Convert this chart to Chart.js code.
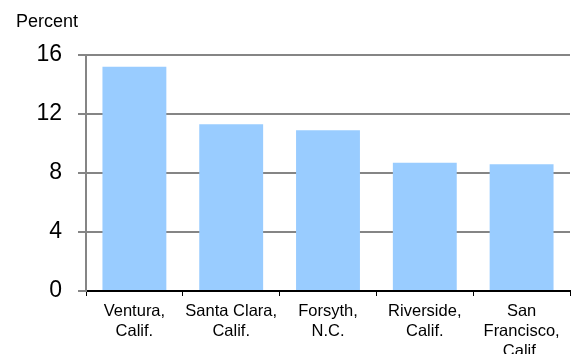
<!DOCTYPE html>
<html>
<head>
<meta charset="utf-8">
<script src="https://cdn.jsdelivr.net/npm/chart.js@4/dist/chart.umd.min.js"></script>
<style>
  html, body { margin: 0; padding: 0; background: #fff; }
  #wrap { width: 571px; height: 354px; }
</style>
</head>
<body>
<div id="wrap"><canvas id="grafica" width="571" height="354"></canvas></div>
<script>
// datos
const condados = [
  ["Ventura,", "Calif."],
  ["Santa Clara,", "Calif."],
  ["Forsyth,", "N.C."],
  ["Riverside,", "Calif."],
  ["San", "Francisco,", "Calif."]
];
const porcentajes = [15.2, 11.3, 10.9, 8.7, 8.6];
const ticksY = [0, 4, 8, 12, 16];
const tituloY = "Percent";

const ctx = document.getElementById("grafica").getContext("2d");

// texto "Percent" arriba a la izquierda
const etiquetaY = {
  id: "etiquetaY",
  afterDraw(chart) {
    const c = chart.ctx;
    c.save();
    c.font = "18px 'Liberation Sans', Arial, sans-serif";
    c.fillStyle = "#000";
    c.textBaseline = "alphabetic";
    c.textAlign = "left";
    c.fillText(tituloY, 16, 27);
    c.restore();
  }
};

let grafico = new Chart(ctx, {
  type: "bar",
  data: {
    labels: condados,
    datasets: [
      {
        data: porcentajes,
        backgroundColor: "#99ccff",
        borderWidth: 0,
        barPercentage: 0.66,
        categoryPercentage: 1,
      },
    ],
  },
  options: {
    responsive: false,
    animation: false,
    layout: { padding: { top: 55, right: 1, left: 0, bottom: 0 } },
    plugins: { legend: { display: false }, tooltip: { enabled: false } },
    scales: {
      x: {
        grid: {
          offset: true,
          drawOnChartArea: true,
          color: (c) => (c.index === condados.length ? "#c8c8c8" : "rgba(0,0,0,0)"),
          tickColor: "#000",
          tickLength: 5,
          lineWidth: 1,
        },
        border: { color: "#000", width: 2 },
        ticks: {
          color: "#000",
          font: { family: "'Liberation Sans', Arial, sans-serif", size: 16.5, lineHeight: 1.2 },
          maxRotation: 0,
          autoSkip: false,
          padding: 6,
        },
        afterFit: (s) => { s.height = 63; },
      },
      y: {
        min: 0,
        max: 16,
        afterBuildTicks: (s) => { s.ticks = ticksY.map((v) => ({ value: v })); },
        grid: {
          color: "#858585",
          tickColor: "#858585",
          tickLength: 8,
          lineWidth: 2,
        },
        border: { color: "#858585", width: 2 },
        ticks: {
          color: "#000",
          font: { family: "'Liberation Sans', Arial, sans-serif", size: 23 },
          padding: 16,
        },
        afterFit: (s) => { s.width = 86; },
      },
    },
  },
  plugins: [etiquetaY],
});
</script>
</body>
</html>
